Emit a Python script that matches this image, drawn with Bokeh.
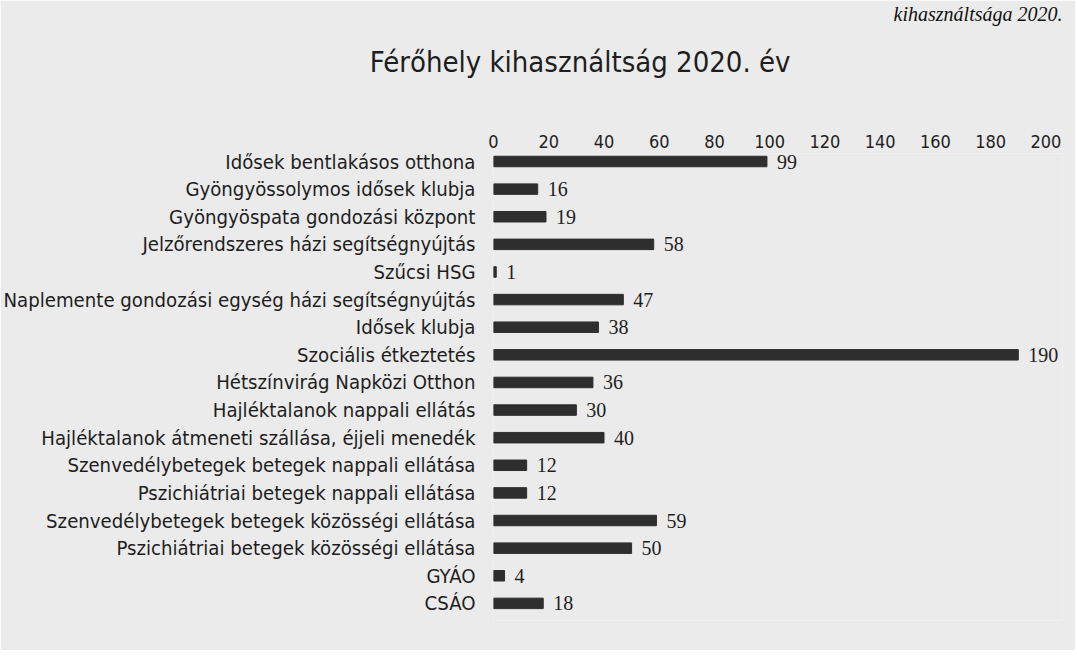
from bokeh.plotting import figure
from bokeh.models import Range1d, FixedTicker, Title, ColumnDataSource
from bokeh.embed import file_html
from bokeh.resources import INLINE

categories = [
    "Idősek bentlakásos otthona",
    "Gyöngyössolymos idősek klubja",
    "Gyöngyöspata gondozási központ",
    "Jelzőrendszeres házi segítségnyújtás",
    "Szűcsi HSG",
    "Naplemente gondozási egység házi segítségnyújtás",
    "Idősek klubja",
    "Szociális étkeztetés",
    "Hétszínvirág Napközi Otthon",
    "Hajléktalanok nappali ellátás",
    "Hajléktalanok átmeneti szállása, éjjeli menedék",
    "Szenvedélybetegek betegek nappali ellátása",
    "Pszichiátriai betegek nappali ellátása",
    "Szenvedélybetegek betegek közösségi ellátása",
    "Pszichiátriai betegek közösségi ellátása",
    "GYÁO",
    "CSÁO",
]
values = [99, 16, 19, 58, 1, 47, 38, 190, 36, 30, 40, 12, 12, 59, 50, 4, 18]
x_ticks = [0, 20, 40, 60, 80, 100, 120, 140, 160, 180, 200]

title_text = "Férőhely kihasználtság 2020. év"
header_text = "kihasználtsága 2020."

BG = "#ebebeb"
LABEL_FONT = "Liberation Sans Narrow, DejaVu Sans Condensed, Open Sans"

idx = list(range(len(categories)))
src = ColumnDataSource(dict(y=idx, v=values, lab=[str(v) for v in values]))

p = figure(width=1075, height=650, output_backend="svg", toolbar_location=None,
           x_range=Range1d(0, 206), y_range=Range1d(16.62, -0.29),
           x_axis_location="above",
           min_border_left=492, min_border_right=13, min_border_top=0, min_border_bottom=30,
           background_fill_color=BG, border_fill_color=BG, outline_line_color=None)

p.hbar(y="y", left=0, right="v", height=0.38, source=src, color="#2e2e2e")
p.text(x="v", y="y", text="lab", source=src, x_offset=10, text_baseline="middle",
       text_font="Liberation Serif", text_font_size="20px", text_color="#1e1e1e")

p.xgrid.visible = False
p.ygrid.visible = False

xa = p.xaxis[0]
xa.ticker = FixedTicker(ticks=x_ticks)
xa.axis_line_color = None
xa.major_tick_line_color = None
xa.minor_tick_line_color = None
xa.major_label_standoff = 0
xa.major_label_text_font = LABEL_FONT
xa.major_label_text_font_size = "18px"
xa.major_label_text_color = "#1e1e1e"

ya = p.yaxis[0]
ya.ticker = FixedTicker(ticks=idx)
ya.major_label_overrides = {i: c for i, c in zip(idx, categories)}
ya.axis_line_color = None
ya.major_tick_line_color = None
ya.minor_tick_line_color = None
ya.major_label_standoff = 12
ya.major_label_text_font = LABEL_FONT
ya.major_label_text_font_size = "20.2px"
ya.major_label_text_color = "#1e1e1e"

p.title.text = header_text
p.title.align = "right"
p.title.standoff = 0
p.title.text_font = "Liberation Serif"
p.title.text_font_style = "italic"
p.title.text_font_size = "20px"
p.title.text_color = "#111111"

# spacer between axis labels and chart title
p.add_layout(Title(text=" ", text_font_size="1px", standoff=50), "above")
p.add_layout(Title(text=title_text, align="right", offset=272, standoff=0,
                   text_font=LABEL_FONT, text_font_style="normal",
                   text_font_size="29px", text_color="#1e1e1e"), "above")
# spacer between chart title and page header
p.add_layout(Title(text=" ", text_font_size="1px", standoff=15), "above")

open("out.html", "w").write(file_html(p, INLINE))
